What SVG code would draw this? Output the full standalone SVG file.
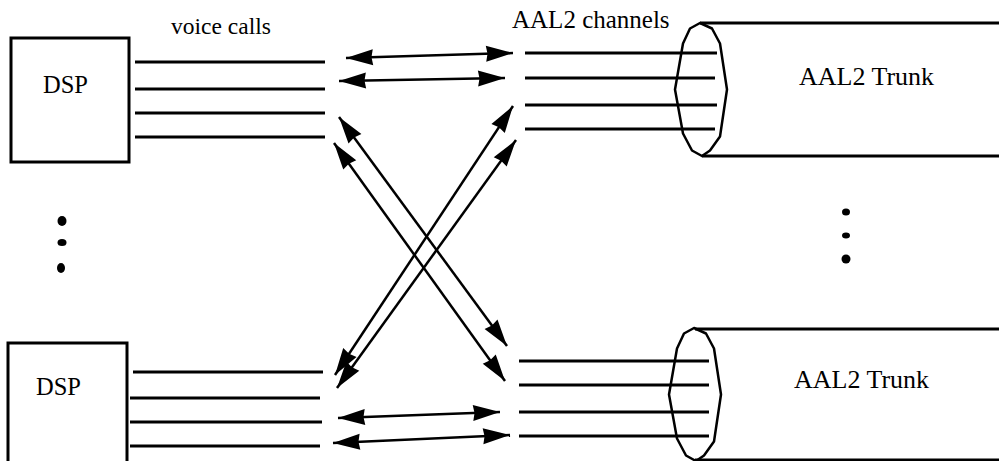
<svg xmlns="http://www.w3.org/2000/svg" width="999" height="461" viewBox="0 0 999 461">
  <style>
    .box { fill: #fff; stroke: #000; stroke-width: 3; }
    .wire { stroke: #000; stroke-width: 3; fill: none; }
    .bundle { fill: none; stroke: #000; stroke-width: 2.5; stroke-linejoin: round; }
    .link { stroke: #000; stroke-width: 2.5; fill: none; marker-start: url(#head); marker-end: url(#head); }
    .lbl { font-family: 'Liberation Serif', 'Times New Roman', serif; fill: #000; }
    .dot { fill: #000; }
  </style>
  <defs>
    <marker id="head" markerUnits="userSpaceOnUse" markerWidth="30" markerHeight="18" refX="27" refY="8" orient="auto-start-reverse" overflow="visible">
      <path d="M0,0 L27,8 L0,16 L1.5,8 Z" fill="#000"/>
    </marker>
    <polygon id="ring" points="-1,-66.5 11,-61 19,-46 26,0 19,47 9,61 1,66.5 -9,61 -18,44 -26,0 -18,-46 -11,-61" class="bundle"/>
  </defs>

  <!-- upper DSP with its voice calls -->
  <g id="dsp-top">
    <rect class="box" x="11" y="38" width="118" height="124"/>
    <text class="lbl" x="43" y="93" font-size="24.5" font-family="Liberation Serif, serif">DSP</text>
  </g>
  <g id="calls-top">
    <text class="lbl" x="171" y="34" font-size="23.5" font-family="Liberation Serif, serif">voice calls</text>
    <line class="wire" x1="135" y1="62" x2="325" y2="62"/>
    <line class="wire" x1="135" y1="89" x2="325" y2="89"/>
    <line class="wire" x1="135" y1="113" x2="325" y2="113"/>
    <line class="wire" x1="135" y1="137" x2="325" y2="137"/>
  </g>

  <!-- lower DSP with its voice calls -->
  <g id="dsp-bottom">
    <rect class="box" x="8" y="343" width="119" height="130"/>
    <text class="lbl" x="36" y="395" font-size="24.5" font-family="Liberation Serif, serif">DSP</text>
  </g>
  <g id="calls-bottom">
    <line class="wire" x1="133" y1="372" x2="323" y2="372"/>
    <line class="wire" x1="130" y1="398" x2="320" y2="398"/>
    <line class="wire" x1="130" y1="422" x2="322" y2="422"/>
    <line class="wire" x1="130" y1="446" x2="320" y2="446"/>
  </g>

  <!-- ellipsis marks between the DSPs and between the trunks -->
  <g id="more-dsp">
    <ellipse class="dot" cx="62" cy="221" rx="4.5" ry="5"/>
    <ellipse class="dot" cx="62" cy="242.5" rx="4.5" ry="3.5"/>
    <ellipse class="dot" cx="61" cy="268" rx="4" ry="5"/>
  </g>
  <g id="more-trunks">
    <ellipse class="dot" cx="846" cy="212" rx="4" ry="3.5"/>
    <ellipse class="dot" cx="846" cy="235.5" rx="4" ry="3"/>
    <ellipse class="dot" cx="846" cy="259" rx="4.5" ry="4.5"/>
  </g>

  <!-- upper AAL2 trunk with its channels -->
  <g id="trunk-top">
    <text class="lbl" x="512" y="28" font-size="25" font-family="Liberation Serif, serif">AAL2 channels</text>
    <line class="wire" x1="525" y1="53" x2="717" y2="53"/>
    <line class="wire" x1="525" y1="78" x2="715" y2="78"/>
    <line class="wire" x1="525" y1="105" x2="717" y2="105"/>
    <line class="wire" x1="525" y1="129" x2="715" y2="129"/>
    <use href="#ring" x="701" y="89.5"/>
    <line class="wire" x1="700" y1="23" x2="999" y2="23"/>
    <line class="wire" x1="702" y1="156" x2="999" y2="156"/>
    <text class="lbl" x="799" y="85" font-size="26" font-family="Liberation Serif, serif">AAL2 Trunk</text>
  </g>

  <!-- lower AAL2 trunk with its channels -->
  <g id="trunk-bottom">
    <line class="wire" x1="519" y1="361" x2="709" y2="361"/>
    <line class="wire" x1="519" y1="385" x2="709" y2="385"/>
    <line class="wire" x1="519" y1="412" x2="709" y2="412"/>
    <line class="wire" x1="519" y1="436" x2="709" y2="436"/>
    <use href="#ring" x="695" y="394.5"/>
    <line class="wire" x1="695" y1="329" x2="999" y2="329"/>
    <line class="wire" x1="695" y1="460" x2="999" y2="460"/>
    <text class="lbl" x="794" y="388" font-size="26" font-family="Liberation Serif, serif">AAL2 Trunk</text>
  </g>

  <!-- call-to-channel mappings -->
  <g id="connectors">
    <line class="link" x1="346" y1="58" x2="513" y2="53"/>
    <line class="link" x1="339" y1="81" x2="505" y2="78"/>
    <line class="link" x1="339" y1="117" x2="507" y2="346"/>
    <line class="link" x1="334" y1="143" x2="505" y2="381"/>
    <line class="link" x1="335" y1="375" x2="513" y2="106"/>
    <line class="link" x1="337" y1="388" x2="516" y2="140"/>
    <line class="link" x1="338" y1="418" x2="500" y2="412"/>
    <line class="link" x1="333" y1="443" x2="510" y2="435"/>
  </g>
</svg>
